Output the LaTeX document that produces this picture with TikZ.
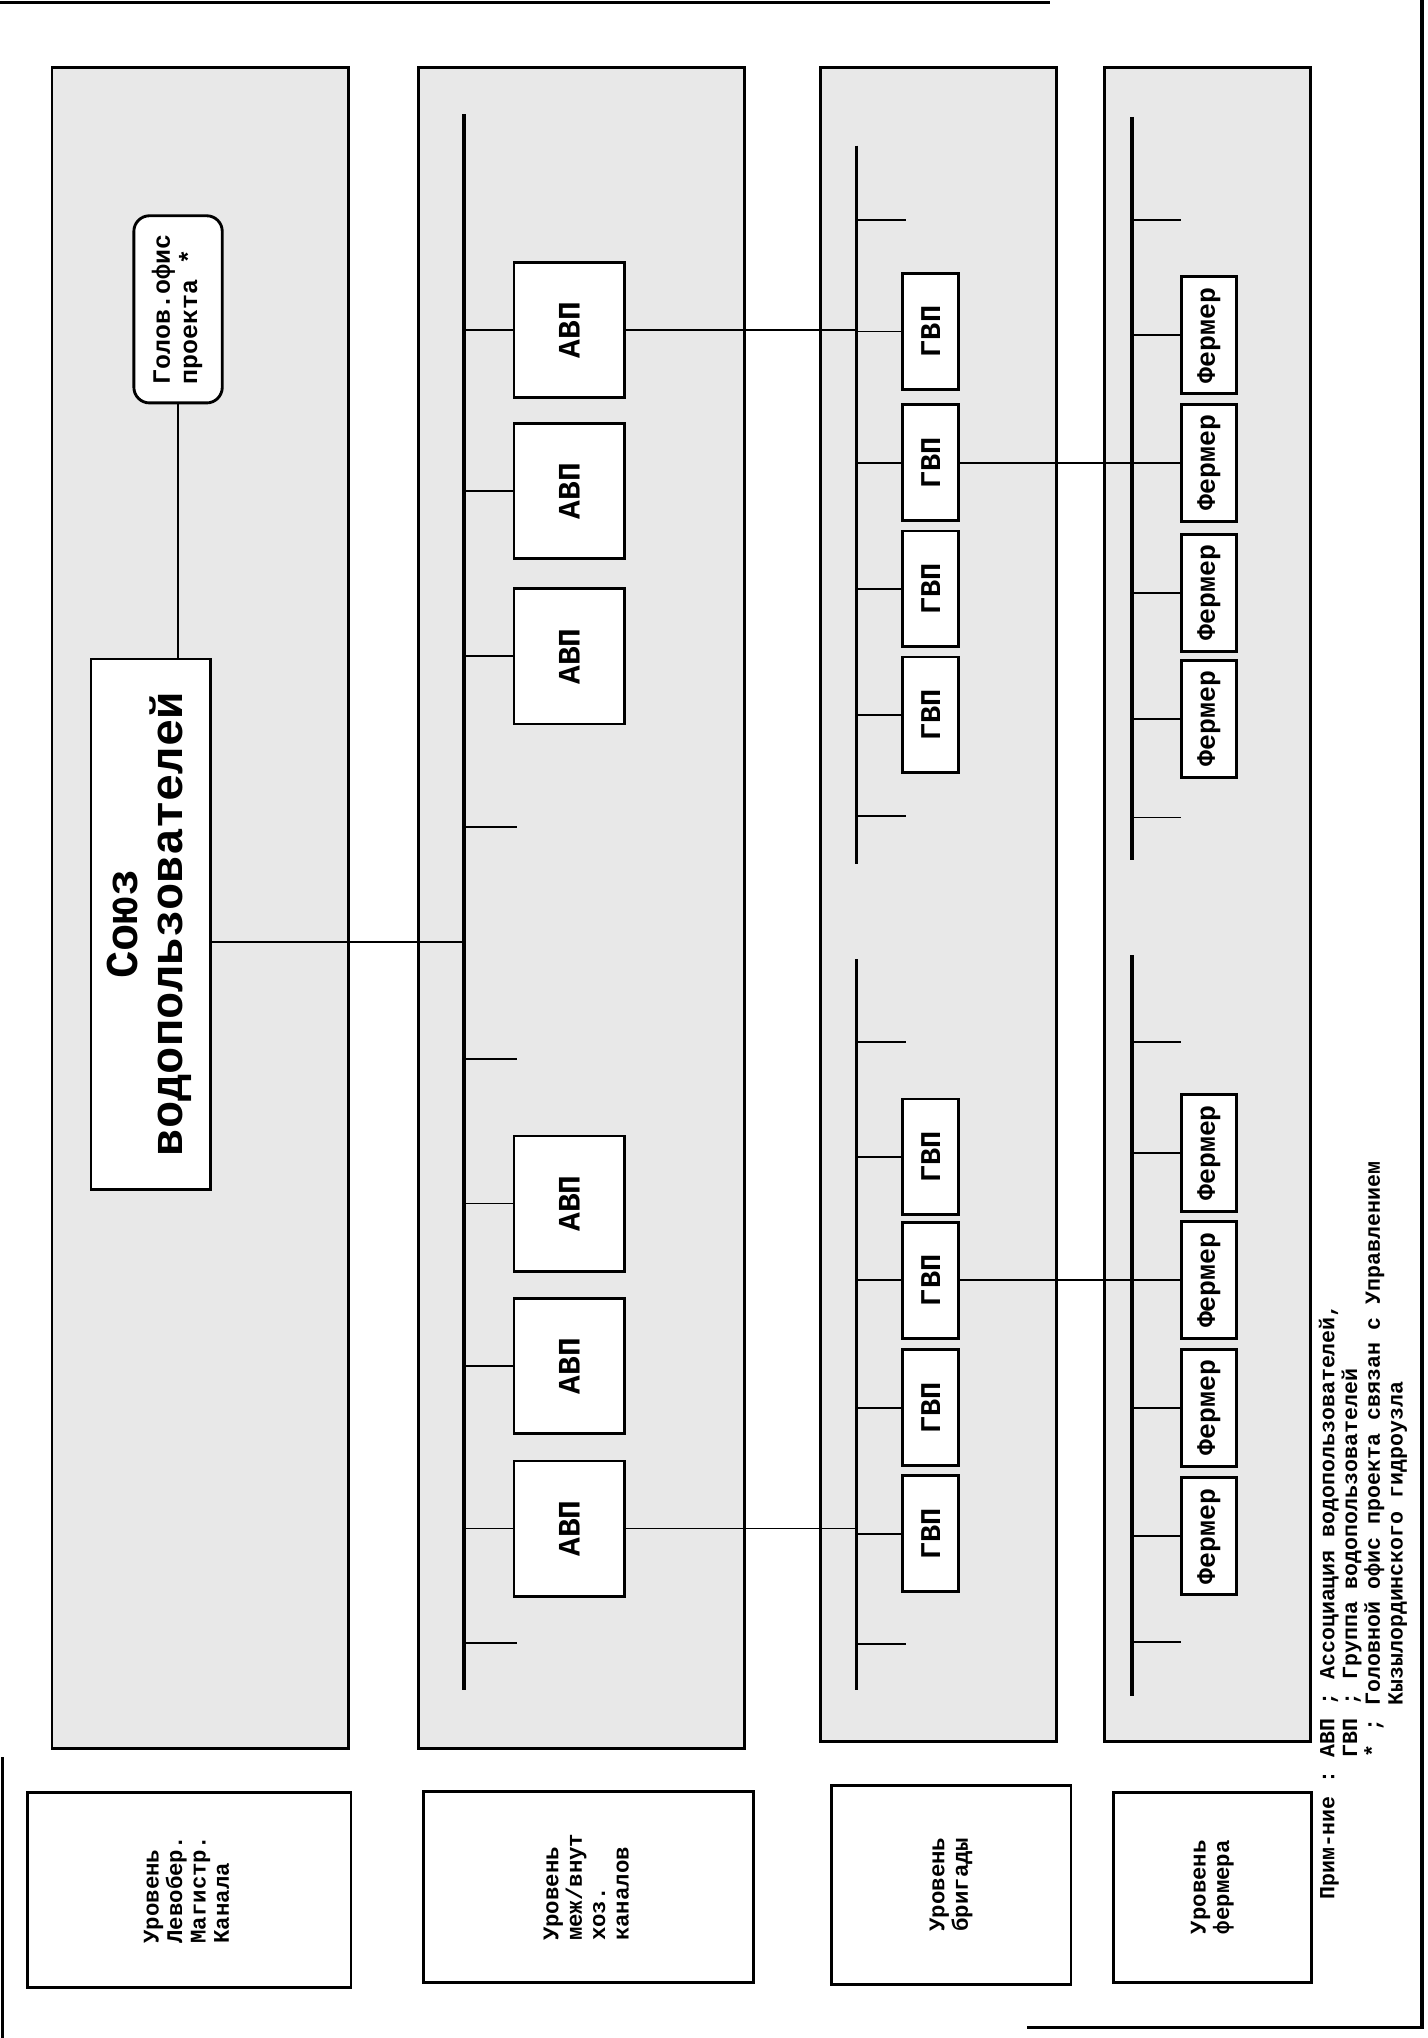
\documentclass[tikz,border=0pt]{standalone}
\usepackage{fontspec}
\setmainfont{Liberation Mono}
\usepackage{graphicx}
\newcommand{\vtext}[2][l]{\rotatebox{90}{\begin{tabular}{@{}#1@{}}#2\end{tabular}}}
\tikzset{
  zone/.style={draw, line width=1.1pt, fill=black!9},
  box/.style={draw, line width=1.1pt, fill=white, inner sep=0pt},
  avp/.style={box, minimum width=42.5pt, minimum height=52pt, font=\bfseries\fontsize{12}{12}\selectfont},
  gvp/.style={box, minimum width=21.5pt, minimum height=44.5pt, font=\bfseries\fontsize{11}{11}\selectfont},
  farm/.style={box, minimum width=21pt, minimum height=45pt, font=\bfseries\fontsize{10.2}{10}\selectfont},
  level/.style={box, font=\bfseries\fontsize{8.6}{9}\selectfont},
  bus/.style={line width=1.4pt},
  link/.style={line width=0.7pt}
}
\begin{document}
\begin{tikzpicture}[x=0.5pt, y=-0.5pt]
  \useasboundingbox (0,0) rectangle (1098,1568);
  % page frame
  \draw[line width=1.2pt] (0,2) -- (808,2);
  \draw[line width=1.2pt] (1094,0) -- (1094,1560) -- (790,1560);
  \draw[line width=1.2pt] (2,1352) -- (2,1568);
  % shaded levels
  \draw[zone] (40,52) rectangle (268,1345);
  \draw[zone] (322,52) rectangle (573,1345);
  \draw[zone] (631,52) rectangle (813,1340);
  \draw[zone] (850,52) rectangle (1008,1340);

  % canal level
  \node[box, minimum width=46pt, minimum height=204pt, font=\bfseries\fontsize{17.5}{15}\selectfont] (union) at (116,711) {\vtext[c]{Союз\\водопользователей}};
  \node[box, rounded corners=6pt, minimum width=34pt, minimum height=72pt, font=\bfseries\fontsize{9.6}{10.5}\selectfont] (office) at (137,238) {\vtext{Голов.офис\\проекта *}};
  \draw[link] (office.south) -- (office.south |- union.north);

  % associations
  \coordinate (b2top) at (357,88);
  \coordinate (b2bot) at (357,1300);
  \coordinate (ujoin) at (357,725);
  \draw[bus] (b2top) -- (b2bot);
  \draw[link] (ujoin -| union.east) -- (ujoin);
  \foreach \n/\y in {1/254,2/378,3/505,4/926,5/1051,6/1176}
    \node[avp] (a\n) at (438,\y) {\rotatebox{90}{АВП}};
  \foreach \n in {1,...,6}
    \draw[link] (a\n.west -| b2top) -- (a\n.west);
  \foreach \y in {636,815,1264}
    \draw[link] (357,\y) -- ++(41,0);

  % groups
  \coordinate (b3top) at (659,112);
  \coordinate (b3mid) at (659,665);
  \coordinate (b3low) at (659,738);
  \coordinate (b3bot) at (659,1300);
  \draw[bus] (b3top) -- (b3mid);
  \draw[bus] (b3low) -- (b3bot);
  \foreach \n/\y in {1/255,2/356,3/453,4/550,5/890,6/985,7/1083,8/1180}
    \node[gvp] (g\n) at (716,\y) {\rotatebox{90}{ГВП}};
  \foreach \n in {1,...,8}
    \draw[link] (g\n.west -| b3top) -- (g\n.west);
  \foreach \y in {169,628,802,1265}
    \draw[link] (659,\y) -- ++(38,0);
  \draw[link] (a1.east) -- (a1.east -| b3top);
  \draw[link] (a6.east) -- (a6.east -| b3top);

  % farmers
  \coordinate (b4top) at (871,90);
  \coordinate (b4mid) at (871,662);
  \coordinate (b4low) at (871,735);
  \coordinate (b4bot) at (871,1305);
  \draw[bus] (b4top) -- (b4mid);
  \draw[bus] (b4low) -- (b4bot);
  \foreach \n/\y in {1/258,2/356,3/456,4/553,5/887,6/985,7/1083,8/1182}
    \node[farm] (f\n) at (930,\y) {\rotatebox{90}{Фермер}};
  \foreach \n in {1,...,8}
    \draw[link] (f\n.west -| b4top) -- (f\n.west);
  \foreach \y in {169,629,802,1263}
    \draw[link] (871,\y) -- ++(38,0);
  \draw[link] (g2.east) -- (g2.east -| b4top);
  \draw[link] (g6.east) -- (g6.east -| b4top);

  % level names
  \node[level, minimum width=124.5pt, minimum height=75pt] (lev1) at (145.5,1454) {\vtext{Уровень\\Левобер.\\Магистр.\\Канала}};
  \node[level, minimum width=127pt, minimum height=73.5pt] (lev2) at (453,1452) {\vtext{Уровень\\меж/внут\\хоз.\\каналов}};
  \node[level, minimum width=92pt, minimum height=76.5pt] (lev3) at (732,1450) {\vtext{Уровень\\бригады}};
  \node[level, minimum width=76pt, minimum height=73pt] (lev4) at (933,1452) {\vtext{Уровень\\фермера}};

  % note
  \node[anchor=south west, inner sep=0pt, font=\bfseries\fontsize{8.3}{8.75}\selectfont] (note) at (1014,1462)
    {\vtext[l]{Прим-ние :~АВП ; Ассоциация водопользователей,\\
      \phantom{Прим-ние :~}ГВП ; Группа водопользователей\\
      \phantom{Прим-ние :~}* ; Головной офис проекта связан с Управлением\\
      \phantom{Прим-ние :~* ;~}Кызылординского гидроузла}};
\end{tikzpicture}
\end{document}
